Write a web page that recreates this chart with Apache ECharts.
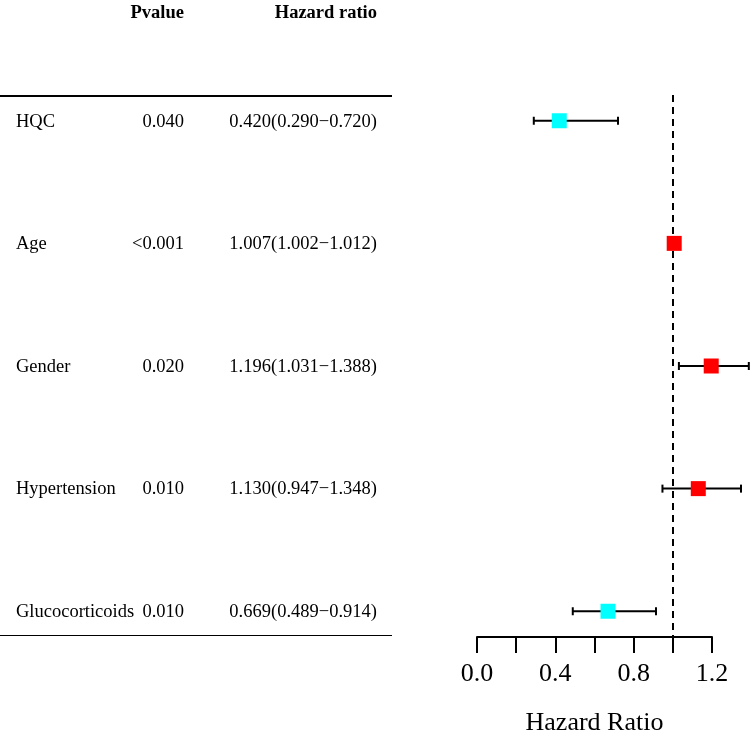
<!DOCTYPE html>
<html>
<head>
<meta charset="utf-8">
<script src="https://cdn.jsdelivr.net/npm/echarts@6/dist/echarts.min.js"></script>
<style>html,body{margin:0;padding:0;background:#fff}#c{width:750px;height:733px}</style>
</head>
<body>
<div id="c"></div>
<script>
const categories = ['HQC', 'Age', 'Gender', 'Hypertension', 'Glucocorticoids'];
const pvalues = ['0.040', '<0.001', '0.020', '0.010', '0.010'];
const hr = [0.420, 1.007, 1.196, 1.130, 0.669];
const lower = [0.290, 1.002, 1.031, 0.947, 0.489];
const upper = [0.720, 1.012, 1.388, 1.348, 0.914];
const xTicks = ['0.0', '0.4', '0.8', '1.2'];
const headers = ['Pvalue', 'Hazard ratio'];

const FONT = 'Liberation Serif';
const chart = echarts.init(document.getElementById('c'));

const forestData = categories.map((c, i) => [i, hr[i], lower[i], upper[i]]);
const tableData = categories.map((c, i) => [i]);

const option = {
  backgroundColor: '#fff',
  animation: false,
  grid: [
    { left: 477, width: 235, top: 95, height: 542, outerBoundsMode: 'none', containLabel: false },
    { left: 0, width: 392, top: 95, height: 542, outerBoundsMode: 'none', containLabel: false }
  ],
  xAxis: [
    {
      gridIndex: 0, type: 'value', min: 0, max: 1.2, interval: 0.2,
      axisLine: { show: true, onZero: false, lineStyle: { color: '#000', width: 2 } },
      axisTick: { show: true, length: 16, lineStyle: { color: '#000', width: 2 } },
      splitLine: { show: false },
      axisLabel: {
        color: '#000', fontFamily: FONT, fontSize: 26, margin: 24,
        formatter: v => { const s = v.toFixed(1); return xTicks.includes(s) ? s : ''; }
      },
      name: 'Hazard Ratio', nameLocation: 'middle', nameGap: 73,
      nameTextStyle: { color: '#000', fontFamily: FONT, fontSize: 26 }
    },
    { gridIndex: 1, type: 'value', min: 0, max: 392, show: false }
  ],
  yAxis: [
    { gridIndex: 0, type: 'value', min: -0.21, max: 4.21, inverse: true, show: false },
    { gridIndex: 1, type: 'value', min: -0.21, max: 4.21, inverse: true, show: false }
  ],
  graphic: [
    { type: 'line', shape: { x1: 0, y1: 96, x2: 392, y2: 96 }, style: { stroke: '#000', lineWidth: 2 } },
    { type: 'line', shape: { x1: 0, y1: 635.5, x2: 392, y2: 635.5 }, style: { stroke: '#000', lineWidth: 1 } },
    { type: 'text', x: 184, y: 13, style: { text: headers[0], fill: '#000', font: 'bold 18.5px ' + FONT, textAlign: 'right', textVerticalAlign: 'middle' } },
    { type: 'text', x: 377, y: 13, style: { text: headers[1], fill: '#000', font: 'bold 18.5px ' + FONT, textAlign: 'right', textVerticalAlign: 'middle' } }
  ],
  series: [
    {
      type: 'custom', xAxisIndex: 0, yAxisIndex: 0, clip: false,
      data: forestData,
      renderItem: (params, api) => {
        const i = api.value(0);
        const c = api.coord([api.value(1), i]);
        const l = api.coord([api.value(2), i]);
        const u = api.coord([api.value(3), i]);
        const col = api.value(1) < 1 ? '#00FFFF' : '#FF0000';
        const s = 15, cap = 4;
        return {
          type: 'group',
          children: [
            { type: 'line', shape: { x1: l[0], y1: c[1], x2: u[0], y2: c[1] }, style: { stroke: '#000', lineWidth: 2 } },
            { type: 'line', shape: { x1: l[0], y1: c[1] - cap, x2: l[0], y2: c[1] + cap }, style: { stroke: '#000', lineWidth: 2 } },
            { type: 'line', shape: { x1: u[0], y1: c[1] - cap, x2: u[0], y2: c[1] + cap }, style: { stroke: '#000', lineWidth: 2 } },
            { type: 'rect', shape: { x: c[0] - s / 2, y: c[1] - s / 2, width: s, height: s }, style: { fill: col } }
          ]
        };
      },
      markLine: {
        silent: true, symbol: 'none', animation: false,
        label: { show: false },
        lineStyle: { color: '#000', width: 2, type: [7, 5] },
        data: [{ xAxis: 1 }]
      },
      z: 5
    },
    {
      type: 'custom', xAxisIndex: 1, yAxisIndex: 1, clip: false,
      data: tableData,
      renderItem: (params, api) => {
        const i = api.value(0);
        const p1 = api.coord([16, i]);
        const p2 = api.coord([184, i]);
        const p3 = api.coord([377, i]);
        const font = '18.5px ' + FONT;
        const hrText = hr[i].toFixed(3) + '(' + lower[i].toFixed(3) + '\u2212' + upper[i].toFixed(3) + ')';
        return {
          type: 'group',
          children: [
            { type: 'text', x: p1[0], y: p1[1] + 1, style: { text: categories[i], fill: '#000', font: font, textAlign: 'left', textVerticalAlign: 'middle' } },
            { type: 'text', x: p2[0], y: p2[1] + 1, style: { text: pvalues[i], fill: '#000', font: font, textAlign: 'right', textVerticalAlign: 'middle' } },
            { type: 'text', x: p3[0], y: p3[1] + 1, style: { text: hrText, fill: '#000', font: font, textAlign: 'right', textVerticalAlign: 'middle' } }
          ]
        };
      }
    }
  ]
};
chart.setOption(option);
</script>
</body>
</html>
